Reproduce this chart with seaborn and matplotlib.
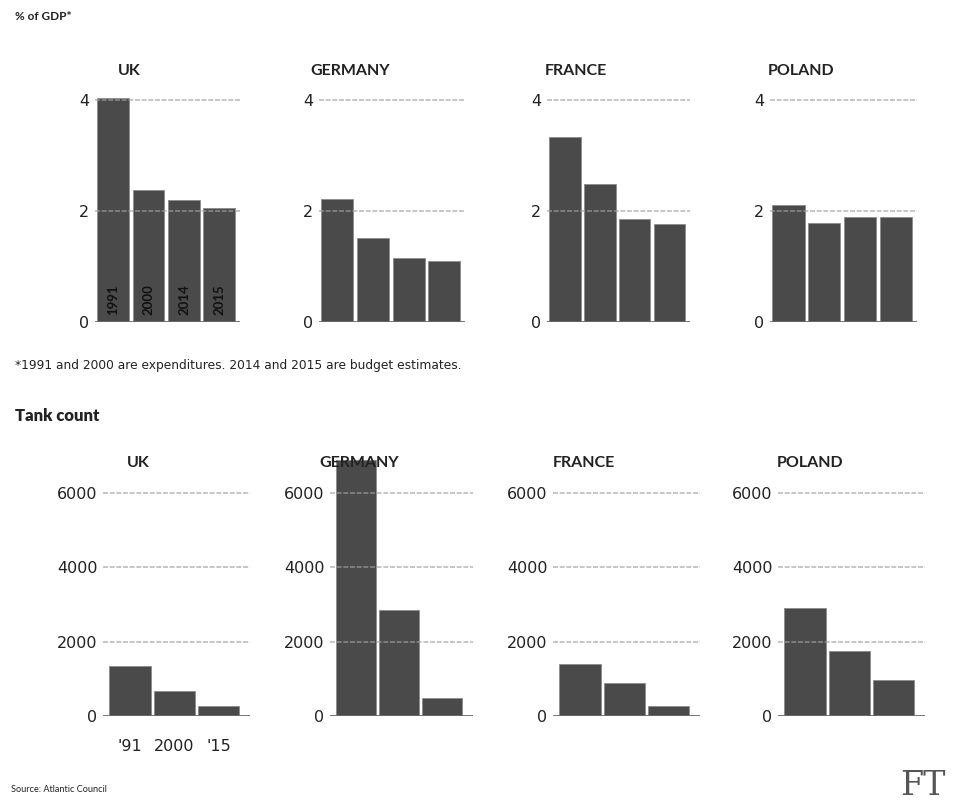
import numpy as np
import pandas as pd
import matplotlib
matplotlib.use("Agg")
import matplotlib.pyplot as plt
import seaborn as sns

# ── Data ──────────────────────────────────────────────────────────────────────
COUNTRIES  = ["UK", "GERMANY", "FRANCE", "POLAND"]

GDP_YEARS  = ["1991", "2000", "2014", "2015"]
GDP_UK      = [4.03, 2.37, 2.19, 2.06]
GDP_GERMANY = [2.22, 1.51, 1.15, 1.09]
GDP_FRANCE  = [3.33, 2.48, 1.85, 1.76]
GDP_POLAND  = [2.10, 1.78, 1.89, 1.89]
GDP_TICKS   = [0, 2, 4]

TANK_YEARS   = ["'91", "2000", "'15"]
TANK_UK      = [1350, 670, 270]
TANK_GERMANY = [6900, 2850, 470]
TANK_FRANCE  = [1390, 870, 260]
TANK_POLAND  = [2900, 1750, 960]
TANK_TICKS   = [0, 2000, 4000, 6000]

gdp = pd.DataFrame({
    "country": np.repeat(COUNTRIES, len(GDP_YEARS)),
    "year":    GDP_YEARS * len(COUNTRIES),
    "value":   GDP_UK + GDP_GERMANY + GDP_FRANCE + GDP_POLAND,
})
tanks = pd.DataFrame({
    "country": np.repeat(COUNTRIES, len(TANK_YEARS)),
    "year":    TANK_YEARS * len(COUNTRIES),
    "value":   TANK_UK + TANK_GERMANY + TANK_FRANCE + TANK_POLAND,
})

# ── Style ─────────────────────────────────────────────────────────────────────
sns.set_theme(style="white")
plt.rcParams["font.family"] = ["Lato", "DejaVu Sans"]

BAR   = "#4a4a4a"
EDGE  = "#8c8c8c"
TEXT  = "#222222"
GRID  = "#a0a0a0"
TICKFONT = "DejaVu Sans"

W, H = 959, 801
fig = plt.figure(figsize=(W / 100, H / 100), dpi=100)
fig.patch.set_facecolor("white")


def rect(x0, x1, y_bot, y_top):
    return [x0 / W, 1 - y_bot / H, (x1 - x0) / W, (y_bot - y_top) / H]


def panel(ax, sub, ticks, ylim, xlim, width):
    sns.barplot(data=sub, x="year", y="value", color=BAR, width=width,
                edgecolor=EDGE, linewidth=0.6, saturation=1, ax=ax)
    ax.set_ylim(*ylim)
    ax.set_xlim(*xlim)
    ax.set_yticks(ticks)
    ax.set_yticklabels([str(t) for t in ticks], fontsize=11.5, color=TEXT,
                       family=TICKFONT)
    ax.tick_params(axis="y", length=0, pad=4)
    ax.set_xlabel("")
    ax.set_ylabel("")
    for s in ax.spines.values():
        s.set_visible(False)
    for t in ticks[1:]:
        ax.axhline(t, color=GRID, lw=1.2, ls=(0, (3, 1)), alpha=0.7, zorder=5)
    ax.axhline(0, color="#6a6a6a", lw=2, zorder=5)


# top row: % of GDP
top_x = [(95, 240), (319, 465), (547, 690), (770, 917)]
top_title_x = [118, 310, 545, 768]
for i, c in enumerate(COUNTRIES):
    ax = fig.add_axes(rect(top_x[i][0], top_x[i][1], 321.7, 321.7 - 4.12 * 55.4))
    panel(ax, gdp[gdp.country == c], GDP_TICKS, (0, 4.12), (-0.51, 3.58), 0.9)
    ax.set_xticks([])
    fig.text(top_title_x[i] / W, 1 - 71 / H, c, ha="left", va="center",
             fontsize=11.5, fontweight="bold", color=TEXT, zorder=10)
    if c == "UK":
        for j, yr in enumerate(GDP_YEARS):
            ax.text(j, 0.12, yr, rotation=90, ha="center", va="bottom",
                    fontsize=9.5, fontweight="bold", color="#111111", zorder=7)

# bottom row: tank count
bot_x = [(103, 250), (330, 473), (553, 700), (778, 925)]
bot_title_x = [127, 319, 553, 777]
for i, c in enumerate(COUNTRIES):
    ax = fig.add_axes(rect(bot_x[i][0], bot_x[i][1], 715.7, 715.7 - 6900 * 0.03707))
    panel(ax, tanks[tanks.country == c], TANK_TICKS, (0, 6900), (-0.61, 2.71), 0.93)
    fig.text(bot_title_x[i] / W, 1 - 463 / H, c, ha="left", va="center",
             fontsize=11.5, fontweight="bold", color=TEXT, zorder=10)
    if c == "UK":
        ax.tick_params(axis="x", length=0, pad=17)
        for lab in ax.get_xticklabels():
            lab.set_fontsize(11.5)
            lab.set_color(TEXT)
            lab.set_family(TICKFONT)
    else:
        ax.set_xticks([])

# ── Annotations ───────────────────────────────────────────────────────────────
fig.text(15 / W, 1 - 16 / H, "% of GDP*", fontsize=8.5, fontweight="bold",
         color=TEXT, va="center")
fig.text(15 / W, 1 - 366 / H,
         "*1991 and 2000 are expenditures. 2014 and 2015 are budget estimates.",
         fontsize=8.8, color=TEXT, va="center", family="DejaVu Sans")
fig.text(15 / W, 1 - 416 / H, "Tank count", fontsize=12, fontweight="heavy",
         color=TEXT, va="center")
fig.text(11 / W, 1 - 790 / H, "Source: Atlantic Council", fontsize=6.6,
         color=TEXT, va="center")
fig.text(946 / W, 1 - 786 / H, "FT", fontsize=24, family="DejaVu Serif",
         color="#555555", ha="right", va="center")

fig.savefig("out.png", dpi=100, facecolor="white")
